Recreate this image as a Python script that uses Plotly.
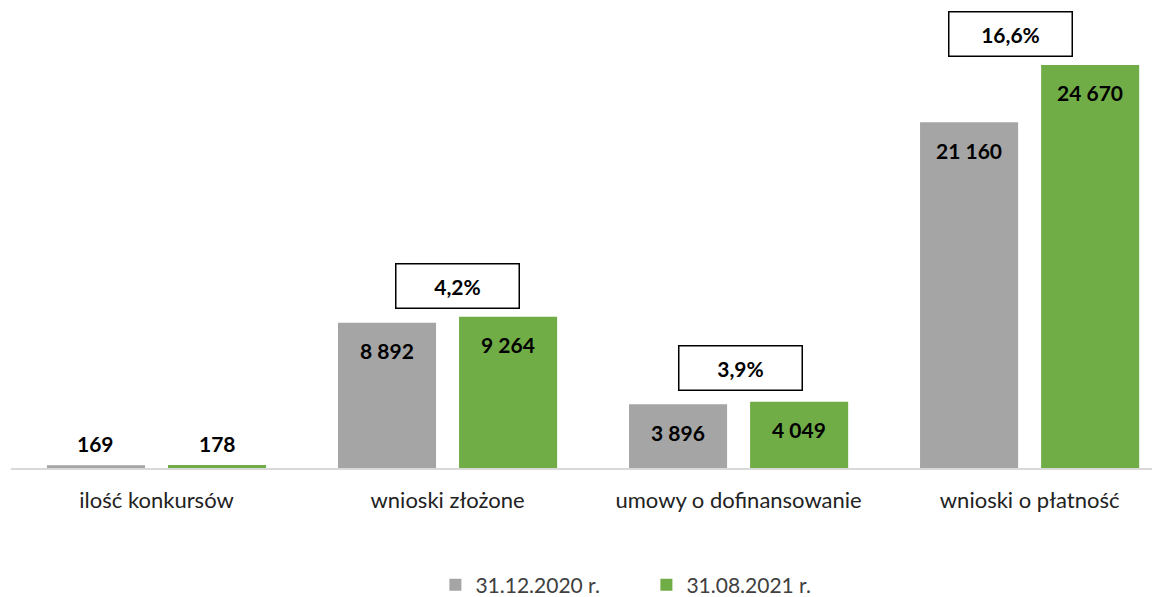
import plotly.graph_objects as go

categories = ["ilość konkursów", "wnioski złożone", "umowy o dofinansowanie", "wnioski o płatność"]
series_names = ["31.12.2020 r.", "31.08.2021 r."]
values_2020 = [169, 8892, 3896, 21160]
values_2021 = [178, 9264, 4049, 24670]
pct_labels = ["", "4,2%", "3,9%", "16,6%"]

colors = ["#A5A5A5", "#70AD47"]
FONT = "Lato, 'Open Sans', sans-serif"

xs = list(range(len(categories)))
off = 0.208
bw = 0.337

fig = go.Figure()
for k, (name, vals) in enumerate(zip(series_names, [values_2020, values_2021])):
    sign = -1 if k == 0 else 1
    fig.add_trace(go.Bar(
        x=[x + sign * off for x in xs], y=vals, width=bw, name=name,
        marker=dict(color=colors[k], line=dict(width=0)),
        hoverinfo="skip",
    ))

def fmt(v):
    return f"{v:,}".replace(",", " ")

annotations = []
for k, vals in enumerate([values_2020, values_2021]):
    sign = -1 if k == 0 else 1
    for x, v in zip(xs, vals):
        small = v < 1000
        annotations.append(dict(
            x=x + sign * off, y=v, xref="x", yref="y",
            text=f"<b>{fmt(v)}</b>", showarrow=False,
            yshift=(22 if small else -28),
            font=dict(family=FONT, size=21, color="#000000"),
        ))

box_shift = {1: 0.034, 2: 0.007, 3: -0.064}
box_yshift = {1: 31, 2: 34, 3: 31}
for i, lab in enumerate(pct_labels):
    if not lab:
        continue
    top = max(values_2020[i], values_2021[i])
    annotations.append(dict(
        x=xs[i] + box_shift[i], y=top, xref="x", yref="y",
        text=f"<b>{lab}</b>", showarrow=False, yshift=box_yshift[i],
        width=116, height=37, borderpad=3, borderwidth=1.5,
        bordercolor="#000000", bgcolor="#FFFFFF",
        font=dict(family=FONT, size=21, color="#000000"),
    ))

fig.update_layout(
    width=1160, height=597,
    margin=dict(l=3, r=8, t=2, b=137, autoexpand=False),
    paper_bgcolor="white", plot_bgcolor="white",
    barmode="overlay",
    showlegend=True,
    legend=dict(orientation="h", x=0.553, xanchor="center",
                yref="container", y=0.0335, yanchor="middle",
                font=dict(family=FONT, size=21, color="#404040"),
                itemwidth=30, traceorder="normal",
                entrywidth=166, entrywidthmode="pixels"),
    xaxis=dict(range=[-0.5, 3.448], tickvals=xs, ticktext=categories,
               showgrid=False, zeroline=False, showline=True, linecolor="#D9D9D9",
               linewidth=1.5, ticks="", ticklen=0, ticklabelstandoff=12,
               tickfont=dict(family=FONT, size=22, color="#222222")),
    yaxis=dict(range=[0, 28030], visible=False, showgrid=False, zeroline=False),
    annotations=annotations,
    font=dict(family=FONT),
)

fig.write_html("out.html")
